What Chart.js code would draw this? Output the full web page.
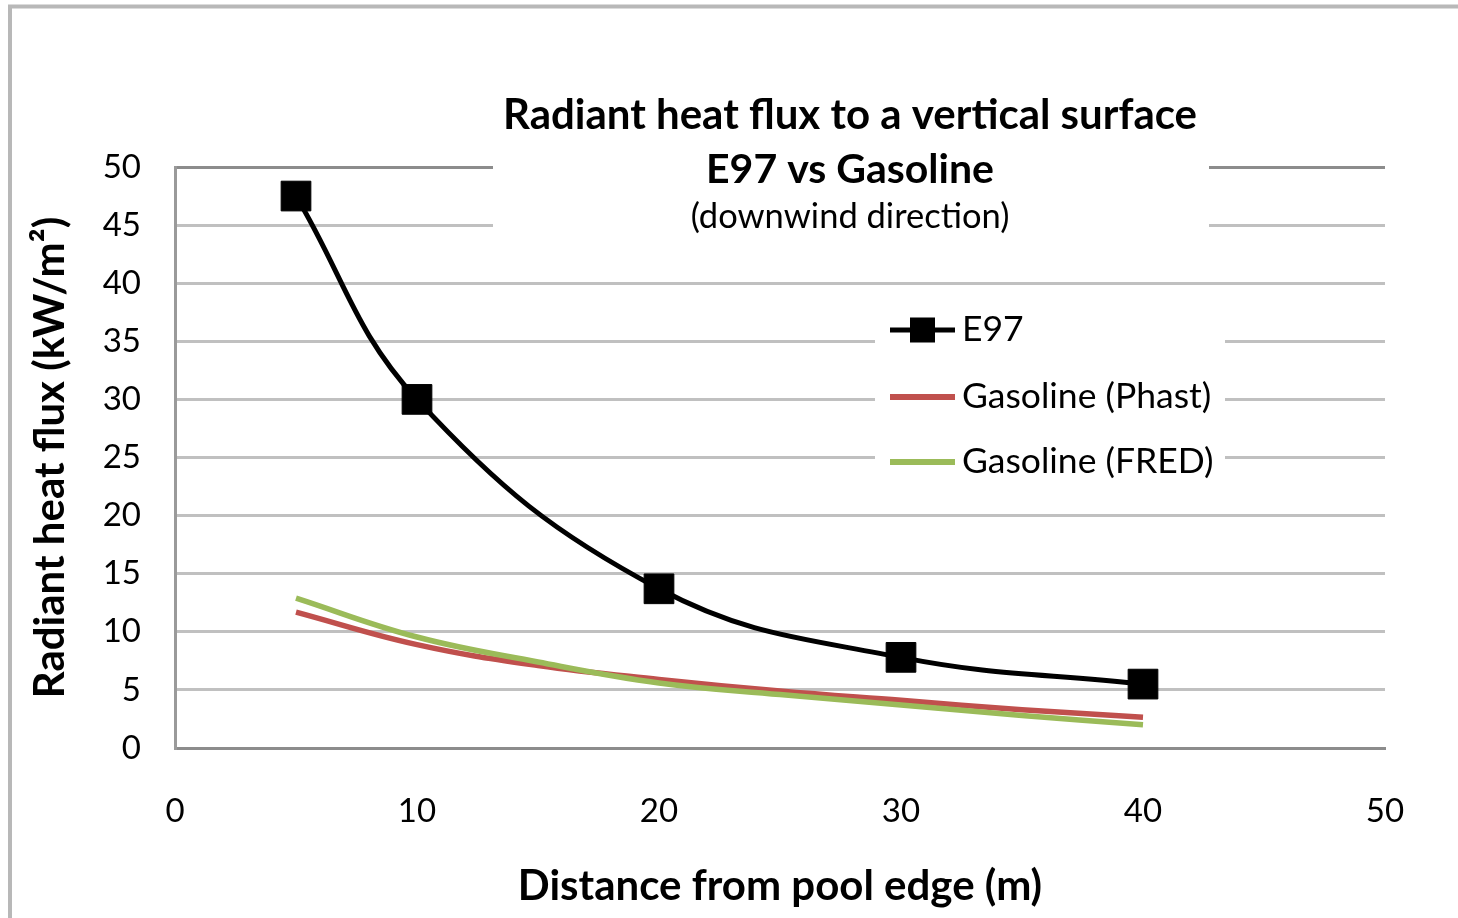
<!DOCTYPE html>
<html><head><meta charset="utf-8">
<script src="https://cdn.jsdelivr.net/npm/chart.js@4"></script>
<style>html,body{margin:0;padding:0;background:#fff;overflow:hidden}canvas{display:block}</style>
</head><body>
<canvas id="c" width="1458" height="918"></canvas>
<script>
const titleLines = ['Radiant heat flux to a vertical surface', 'E97 vs Gasoline', '(downwind direction)'];
const xAxisTitle = 'Distance from pool edge (m)';
const yAxisTitle = 'Radiant heat flux (kW/m\u00B2)';
const seriesNames = ['E97', 'Gasoline (Phast)', 'Gasoline (FRED)'];
const e97X = [5, 10, 20, 30, 40];
const e97Y = [47.5, 30, 13.7, 7.8, 5.5];
const gasX = [5, 10, 15, 20, 25, 30, 35, 40];
const phastY = [11.7, 8.9, 7.1, 5.9, 4.9, 4.1, 3.3, 2.65];
const fredY = [12.9, 9.55, 7.4, 5.6, 4.6, 3.7, 2.8, 2.0];
const xTicks = [0, 10, 20, 30, 40, 50];
const yTicks = [0, 5, 10, 15, 20, 25, 30, 35, 40, 45, 50];

const FONT = 'Lato, "Open Sans", "DejaVu Sans", sans-serif';
const colors = ['#000000', '#C0504D', '#9BBB59'];

Chart.defaults.font.family = FONT;
Chart.defaults.color = '#000';

const frame = {
  id: 'frame',
  beforeDraw(chart) {
    const ctx = chart.ctx;
    ctx.save();
    ctx.fillStyle = '#fff';
    ctx.fillRect(0, 0, chart.width, chart.height);
    ctx.strokeStyle = '#b8b8b8';
    ctx.lineWidth = 4;
    ctx.strokeRect(10, 6.5, 4000, 4000);
    ctx.restore();
  }
};

const overlay = {
  id: 'overlay',
  beforeDatasetsDraw(chart) {
    const ctx = chart.ctx, a = chart.chartArea;
    ctx.save();
    ctx.fillStyle = '#fff';
    // title box
    ctx.fillRect(a.left + 318, a.top - 10, 716, 84);
    // legend box
    ctx.fillRect(a.left + 700, a.top + 133, 350, 190);
    // title text
    ctx.fillStyle = '#000';
    ctx.textAlign = 'center';
    ctx.textBaseline = 'middle';
    const cx = a.left + 675;
    ctx.font = 'bold 42px ' + FONT;
    ctx.fillText(titleLines[0], cx, a.top - 52);
    ctx.font = 'bold 41px ' + FONT;
    ctx.fillText(titleLines[1], cx, a.top + 3);
    ctx.font = '34.5px ' + FONT;
    ctx.fillText(titleLines[2], cx, a.top + 50);
    // legend
    const rows = [a.top + 163, a.top + 230, a.top + 295];
    const lx0 = a.left + 715, lx1 = a.left + 780;
    ctx.textAlign = 'left';
    ctx.font = '35.5px ' + FONT;
    rows.forEach((y, i) => {
      ctx.strokeStyle = colors[i];
      ctx.lineWidth = i === 0 ? 5 : 6;
      ctx.beginPath(); ctx.moveTo(lx0, y); ctx.lineTo(lx1, y); ctx.stroke();
      if (i === 0) {
        ctx.fillStyle = '#000';
        ctx.fillRect((lx0 + lx1) / 2 - 12.5, y - 12.5, 25, 25);
      }
      ctx.fillStyle = '#000';
      ctx.fillText(seriesNames[i], a.left + 787, y);
    });
    ctx.restore();
  }
};

const toXY = (xs, ys) => xs.map((x, i) => ({ x, y: ys[i] }));

new Chart(document.getElementById('c'), {
  type: 'line',
  data: {
    datasets: [
      { label: seriesNames[1], data: toXY(gasX, phastY), borderColor: colors[1], borderWidth: 5.5, pointRadius: 0, tension: 0.4, order: 2 },
      { label: seriesNames[2], data: toXY(gasX, fredY), borderColor: colors[2], borderWidth: 5.5, pointRadius: 0, tension: 0.4, order: 1 },
      { label: seriesNames[0], data: toXY(e97X, e97Y), borderColor: colors[0], borderWidth: 5, pointStyle: 'rect', pointRadius: 21, pointBorderWidth: 1, pointBackgroundColor: '#000', pointBorderColor: '#000', tension: 0.4, order: 0 }
    ]
  },
  options: {
    responsive: false,
    animation: false,
    devicePixelRatio: 1,
    layout: { padding: { top: 167, right: 73, bottom: 0, left: 0 } },
    plugins: { legend: { display: false }, tooltip: { enabled: false } },
    scales: {
      x: {
        type: 'linear', min: 0, max: 50,
        afterFit(s) { s.height = 170; },
        afterBuildTicks(s) { s.ticks = xTicks.map(v => ({ value: v })); },
        grid: { display: false, drawTicks: false },
        border: { display: true, color: '#8c8c8c', width: 3 },
        ticks: { padding: 44, font: { size: 33 }, color: '#000', maxRotation: 0 },
        title: { display: true, text: xAxisTitle, font: { size: 42, weight: 'bold' }, color: '#000', padding: { top: 0, bottom: 6 } }
      },
      y: {
        type: 'linear', min: 0, max: 50,
        afterFit(s) { s.width = 175; },
        afterBuildTicks(s) { s.ticks = yTicks.map(v => ({ value: v })); },
        grid: { drawTicks: false, lineWidth: 3, color: ctx => ctx.tick && ctx.tick.value === 50 ? '#8c8c8c' : '#c0c0c0' },
        border: { display: true, color: '#9a9a9a', width: 3 },
        ticks: { padding: 34, font: { size: 33 }, color: '#000' },
        title: { display: true, text: yAxisTitle, font: { size: 42, weight: 'bold' }, color: '#000', padding: { top: 25, bottom: 0 } }
      }
    }
  },
  plugins: [frame, overlay]
});
</script>
</body></html>
